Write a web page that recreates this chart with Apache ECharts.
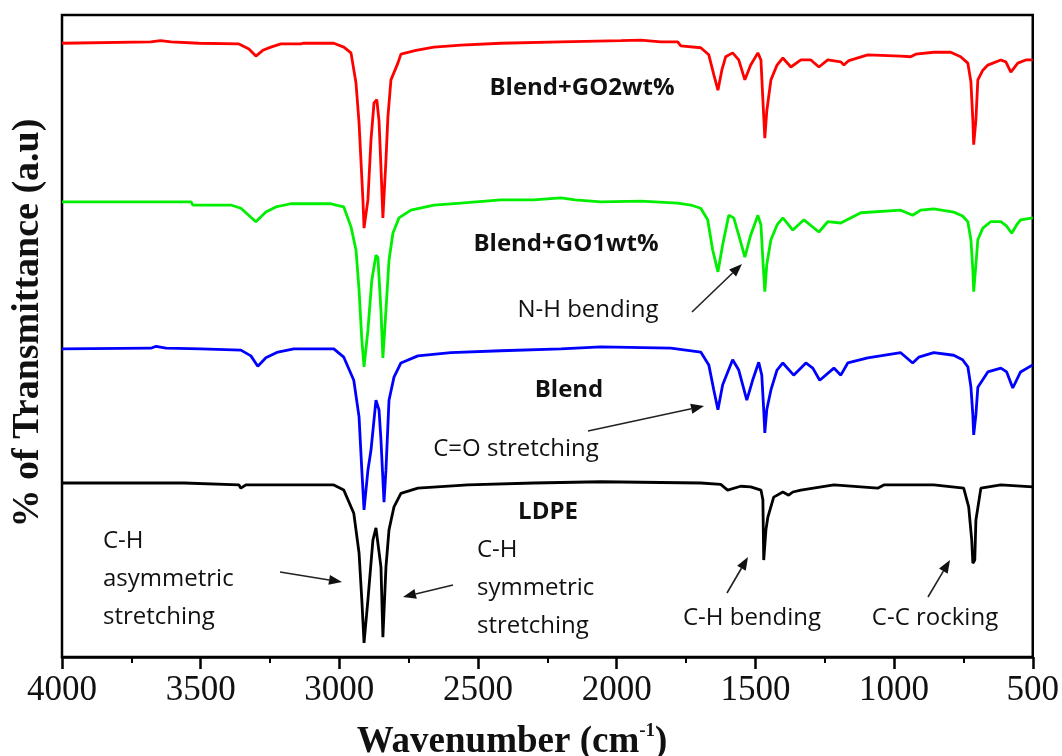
<!DOCTYPE html>
<html><head><meta charset="utf-8">
<script src="https://cdn.jsdelivr.net/npm/echarts@6/dist/echarts.min.js"></script>
<style>html,body{margin:0;padding:0;background:#fff}#c{width:1062px;height:756px}</style>
</head><body><div id="c"></div>
<script>
// ---- data (wavenumber cm^-1, % transmittance in arbitrary offset units) ----
const xTickValues = [4000, 3500, 3000, 2500, 2000, 1500, 1000, 500];
const seriesNames = ['LDPE', 'Blend', 'Blend+GO1wt%', 'Blend+GO2wt%'];

const ldpe = [[4000,27.1],[3560,27.1],[3553,26.8],[3362,26.8],[3355,26.3],[3337,26.8],[3020,26.8],[2984,26.0],[2948,22.4],[2929,16.2],[2919,8.9],[2911,2.2],[2897,8.9],[2879,18.2],[2868,20.1],[2861,19.8],[2850,14.0],[2843,3.1],[2832,14.0],[2821,19.8],[2803,23.4],[2778,25.5],[2717,26.3],[2537,26.8],[2299,27.1],[2057,27.3],[1697,27.1],[1625,26.9],[1600,26.0],[1553,26.6],[1517,26.5],[1480,26.0],[1473,24.5],[1470,15.1],[1466,15.1],[1462,19.8],[1455,21.8],[1434,24.9],[1401,25.7],[1380,25.2],[1365,25.7],[1336,26.0],[1217,26.8],[1059,26.3],[1037,26.8],[857,26.8],[749,26.3],[731,23.4],[720,18.2],[716,14.6],[709,15.1],[705,21.3],[687,26.3],[615,26.8],[500,26.5]];

const blend = [[4000,48.0],[3679,48.1],[3661,48.4],[3625,48.1],[3499,48.0],[3355,47.8],[3319,46.9],[3294,45.3],[3265,46.6],[3222,47.5],[3164,48.0],[3020,48.0],[2984,46.7],[2948,43.1],[2929,37.4],[2919,29.1],[2911,22.9],[2897,29.1],[2886,32.2],[2868,40.0],[2857,38.5],[2850,33.8],[2839,24.1],[2832,29.1],[2821,40.0],[2803,43.6],[2778,45.8],[2717,46.9],[2598,47.4],[2418,47.7],[2201,48.0],[2057,48.3],[1805,48.1],[1697,47.5],[1668,45.5],[1650,41.6],[1635,38.5],[1618,42.4],[1582,46.3],[1560,44.7],[1531,40.0],[1510,43.1],[1488,45.9],[1477,43.9],[1470,38.5],[1466,34.9],[1459,38.5],[1444,41.6],[1422,44.7],[1401,45.8],[1362,43.9],[1318,45.8],[1293,45.0],[1268,43.1],[1217,45.0],[1192,43.9],[1167,45.8],[1095,46.6],[976,47.4],[933,45.8],[911,46.7],[857,47.4],[785,47.0],[753,46.3],[734,45.2],[723,42.1],[716,37.7],[713,34.6],[705,37.7],[698,42.0],[662,44.4],[615,45.0],[594,44.4],[572,41.9],[544,44.4],[500,45.5]];

const blendGO1 = [[4000,70.9],[3535,70.9],[3528,70.4],[3391,70.4],[3355,69.9],[3301,67.8],[3265,69.3],[3229,70.1],[3175,70.6],[3030,70.6],[3012,70.4],[2984,70.1],[2958,67.0],[2940,63.4],[2929,57.2],[2919,49.4],[2911,45.2],[2897,50.9],[2883,58.7],[2868,62.6],[2861,62.2],[2850,54.0],[2843,46.6],[2832,54.0],[2821,61.8],[2807,66.0],[2785,68.4],[2742,69.6],[2659,70.4],[2562,70.7],[2418,71.2],[2300,71.2],[2201,71.5],[2150,71.2],[2057,70.9],[1913,71.0],[1780,70.7],[1733,70.4],[1697,69.9],[1672,68.1],[1654,63.4],[1635,60.0],[1618,64.2],[1596,68.8],[1578,68.4],[1560,65.7],[1538,62.3],[1517,65.7],[1491,68.8],[1480,67.3],[1473,61.8],[1466,56.9],[1459,61.1],[1444,65.0],[1422,67.3],[1401,68.4],[1365,66.5],[1325,68.1],[1271,66.2],[1239,67.8],[1192,67.6],[1120,69.2],[976,69.6],[933,68.8],[904,69.6],[857,69.8],[785,69.3],[753,68.7],[734,67.8],[723,65.0],[716,60.3],[713,56.9],[705,61.1],[698,65.0],[680,66.8],[652,67.8],[615,67.8],[594,67.1],[576,66.0],[558,67.3],[544,68.1],[500,68.4]];

const blendGO2 = [[4000,95.6],[3680,95.8],[3645,96.0],[3607,95.8],[3506,95.6],[3499,95.5],[3362,95.5],[3326,94.7],[3301,93.6],[3276,94.5],[3247,95.0],[3211,95.5],[3139,95.5],[3131,95.6],[3020,95.6],[2984,95.0],[2958,94.1],[2940,89.4],[2929,83.2],[2915,71.2],[2911,66.8],[2897,71.2],[2886,80.5],[2875,86.3],[2865,86.8],[2857,83.5],[2850,76.3],[2843,68.4],[2832,77.4],[2825,84.1],[2814,89.9],[2789,92.5],[2778,93.9],[2724,94.5],[2659,95.0],[2562,95.3],[2418,95.6],[2201,95.8],[1985,96.0],[1913,96.1],[1841,95.8],[1780,95.8],[1769,95.2],[1697,94.9],[1668,93.8],[1650,90.7],[1635,88.3],[1621,91.4],[1607,93.5],[1582,94.1],[1560,93.0],[1538,89.9],[1517,92.2],[1491,94.1],[1480,93.0],[1473,86.8],[1466,80.8],[1459,85.0],[1444,89.9],[1422,92.2],[1401,93.3],[1372,91.9],[1336,93.0],[1300,93.0],[1271,91.9],[1239,93.0],[1192,92.7],[1181,92.2],[1163,92.9],[1095,93.8],[976,93.6],[940,93.5],[922,93.9],[857,94.2],[796,94.2],[760,93.5],[734,92.5],[723,89.6],[716,83.6],[713,79.8],[705,83.6],[698,89.9],[680,91.4],[662,92.2],[615,93.0],[597,92.7],[579,91.1],[554,92.5],[525,93.0],[500,93.0]];

// ---- annotations ----
const annotationTexts = [
  {t:'Blend+GO2wt%', x:582, y:88, bold:true},
  {t:'Blend+GO1wt%', x:566, y:244, bold:true},
  {t:'N-H bending', x:588, y:310},
  {t:'Blend', x:569, y:390, bold:true},
  {t:'C=O stretching', x:516, y:449},
  {t:'LDPE', x:548, y:512, bold:true},
  {t:'C-H\nasymmetric\nstretching', x:103, y:579, align:'left'},
  {t:'C-H\nsymmetric\nstretching', x:477, y:588, align:'left'},
  {t:'C-H bending', x:752, y:618},
  {t:'C-C rocking', x:935, y:618}
];
const arrows = [
  [692,312,742,264],[588,431,704,406],[280,572,342,582],
  [453,585,403,597],[727,593,748,557],[928,597,950,560]
];

const chart = echarts.init(document.getElementById('c'));
const graphic = [];
annotationTexts.forEach(a => {
  graphic.push({type:'text', x:a.x, y:a.y, silent:true, z:100,
    style:{text:a.t, fill:'#111', fontFamily:'Open Sans', fontSize:24,
      fontWeight:a.bold?'bold':'normal', align:a.align||'center', verticalAlign:'middle', lineHeight:38}});
});
arrows.forEach(([x1,y1,x2,y2]) => {
  const dx = x2-x1, dy = y2-y1, L = Math.hypot(dx,dy), ux = dx/L, uy = dy/L;
  const hl = 13, hw = 5;
  const bx = x2-ux*hl, by = y2-uy*hl;
  graphic.push({type:'line', silent:true, z:100, shape:{x1, y1, x2:bx, y2:by}, style:{stroke:'#222', lineWidth:1.6}});
  graphic.push({type:'polygon', silent:true, z:100, shape:{points:[[x2,y2],[bx-uy*hw, by+ux*hw],[bx+uy*hw, by-ux*hw]]}, style:{fill:'#111'}});
});
graphic.push({type:'text', x:512, y:742, silent:true, z:100,
  style:{text:'{b|Wavenumber (cm}{s|-1}{b|)}', align:'center', verticalAlign:'middle',
    rich:{b:{fontFamily:'Liberation Serif', fontWeight:'bold', fontSize:37, fill:'#111', lineHeight:40},
          s:{fontFamily:'Liberation Serif', fontWeight:'bold', fontSize:19, fill:'#111', verticalAlign:'top', lineHeight:40, padding:[0,0,14,0]}}}});
graphic.push({type:'text', x:28, y:323, rotation:Math.PI/2, silent:true, z:100,
  style:{text:'% of Transmittance (a.u)', fontFamily:'Liberation Serif', fontWeight:'bold', fontSize:38,
    fill:'#111', align:'center', verticalAlign:'middle'}});

const colors = ['#000000', '#0000ff', '#00ee00', '#ff0000'];
const seriesData = [ldpe, blend, blendGO1, blendGO2];

chart.setOption({
  animation:false,
  backgroundColor:'#fff',
  grid:{left:62, right:29, top:15, bottom:99, show:true, borderColor:'#000', borderWidth:2.5},
  xAxis:{type:'value', min:500, max:4000, interval:500, inverse:true,
    axisLine:{show:true, lineStyle:{color:'#000', width:2.5}},
    axisTick:{show:true, inside:false, length:12, lineStyle:{color:'#000', width:2.5}},
    minorTick:{show:true, splitNumber:2, length:6, lineStyle:{color:'#000', width:2}},
    splitLine:{show:false},
    axisLabel:{show:true, margin:16, color:'#111', fontFamily:'Liberation Serif', fontSize:35,
      formatter: v => xTickValues.includes(v) ? String(v) : ''}},
  yAxis:{type:'value', min:0, max:100, axisLine:{show:false}, axisTick:{show:false},
    axisLabel:{show:false}, splitLine:{show:false}},
  series: seriesData.map((d,i) => ({
    name:seriesNames[i], type:'line', data:d, showSymbol:false, symbol:'none',
    lineStyle:{color:colors[i], width:2.8}, itemStyle:{color:colors[i]}, z:2+i
  })),
  graphic: graphic
});
</script>
</body></html>
